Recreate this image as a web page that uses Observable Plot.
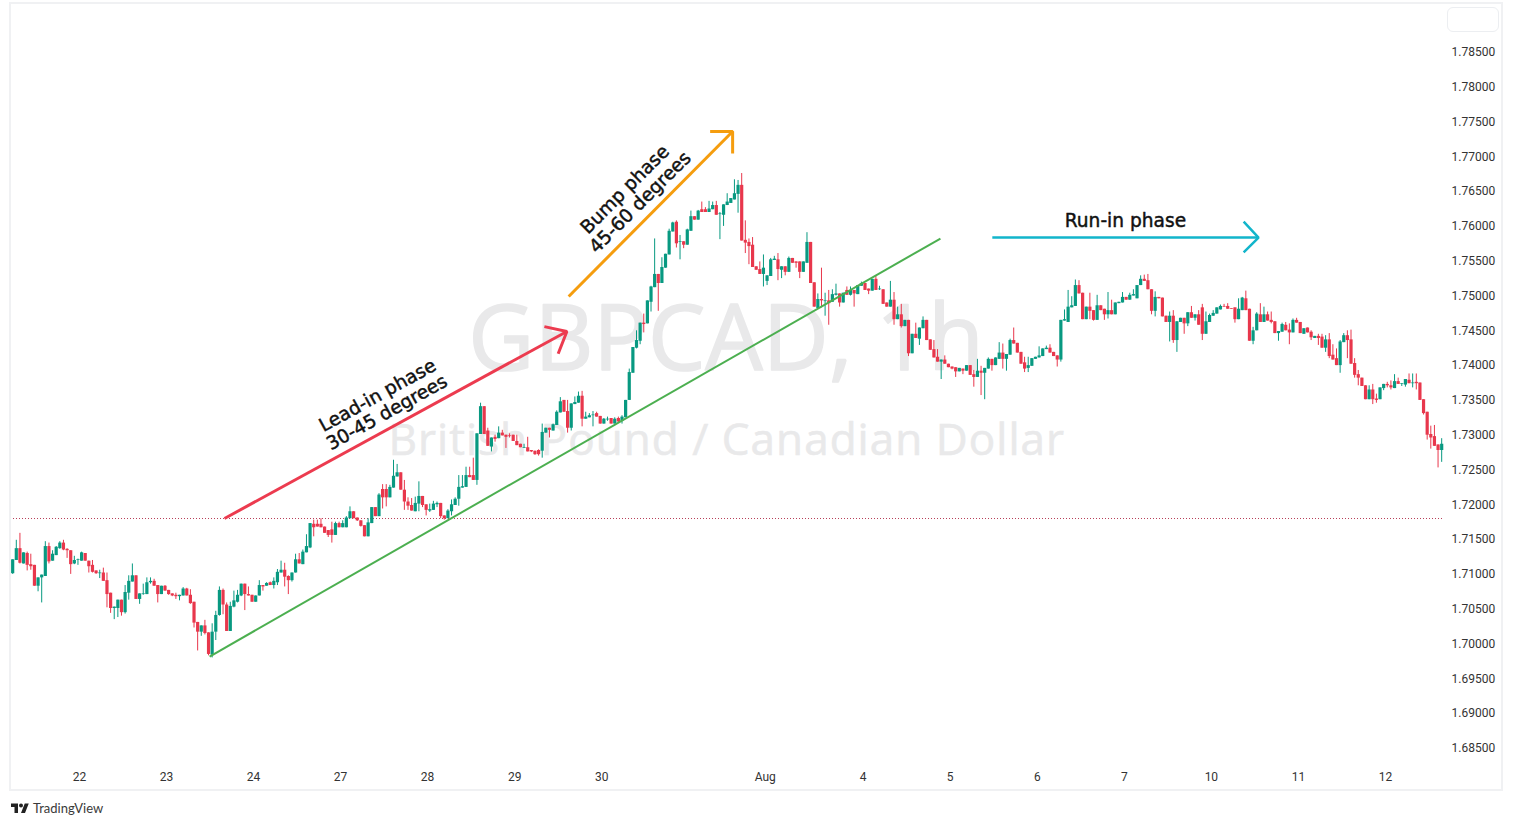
<!DOCTYPE html>
<html><head><meta charset="utf-8">
<script src="https://cdn.jsdelivr.net/npm/d3@7"></script>
<script src="https://cdn.jsdelivr.net/npm/@observablehq/plot@0.6"></script>
<style>
html,body{margin:0;padding:0;background:#fff;overflow:hidden}
#frame{position:absolute;left:9px;top:2px;width:1494px;height:789px;box-sizing:border-box;border:2px solid #f0f1f3;pointer-events:none}
#box{position:absolute;left:1447px;top:7px;width:52px;height:25px;box-sizing:border-box;border:1px solid #eceef1;border-radius:6px;background:#fff}
#tv{position:absolute;left:10px;top:801px;height:14px;display:flex;align-items:center;font:13px Lato,sans-serif;color:#3a3a3a}
#tv svg{width:20px;height:14px;margin-right:3px}
#chart{position:absolute;left:0;top:0}
.wm-sub text{letter-spacing:1.05px}
</style></head><body>
<div id="chart"></div><div id="frame"></div><div id="box"></div>
<div id="tv"><svg viewBox="0 0 36 28"><path d="M14 24H7V12H0V5h14v19zM28 24h-8l7.5-19h8L28 24z" fill="#222"/><circle cx="20" cy="9" r="4" fill="#222"/></svg><span>TradingView</span></div>
<script>
// Prices are pips above 1.70000, one candle per hour.
const opens=[
101,120,137,115,130,114,113,83,95,97,
140,119,127,137,145,136,134,115,120,119,
130,119,113,105,101,102,91,73,51,51,
63,45,73,89,98,64,71,71,88,90,
84,71,83,77,72,70,68,69,79,70,
60,31,17,26,16,-16,17,41,77,56,
18,53,60,69,86,71,70,60,69,84,
83,88,84,88,102,106,97,91,102,121,
114,131,138,172,172,172,168,163,164,156,
173,167,167,180,190,181,177,170,154,173,
196,183,222,222,210,224,240,246,221,204,
199,190,201,212,200,191,192,200,202,184,
180,190,199,208,224,225,242,242,235,301,
341,306,283,297,295,303,300,299,300,291,
287,281,282,278,277,278,277,303,310,306,
314,332,350,334,310,344,346,356,323,325,
328,331,327,316,322,324,316,324,320,325,
350,389,425,435,461,460,491,512,531,518,
540,559,592,606,577,578,573,593,614,609,
624,624,620,624,630,617,616,630,633,638,
646,659,580,577,573,542,538,531,521,528,
551,552,537,542,534,554,549,549,534,547,
577,519,482,495,492,493,491,501,503,490,
508,501,508,502,514,518,510,507,524,509,
509,490,484,494,466,473,456,465,417,445,
438,453,465,437,423,412,405,408,402,398,
397,391,395,392,400,387,383,392,389,395,
409,400,409,418,409,415,436,432,419,404,
396,399,409,411,413,423,425,419,414,408,
464,462,483,485,515,504,466,484,479,465,
486,481,473,479,473,489,490,498,494,500,
496,515,524,522,509,478,498,497,471,462,
471,436,462,468,460,476,468,473,483,445,
462,471,474,480,485,485,482,483,466,479,
496,481,435,450,473,462,473,465,463,446,
448,458,451,447,465,462,445,454,448,439,
442,441,425,437,415,410,400,433,443,437,
403,387,382,371,351,365,352,351,367,373,
371,367,377,373,372,379,374,376,375,351,
333,301,298,286,278];
const closes=[
121,137,116,131,113,111,83,95,99,140,
118,129,139,145,135,134,114,120,121,131,
119,111,103,101,102,90,71,51,53,63,
45,74,90,98,64,72,72,88,90,83,
71,83,76,71,69,68,70,79,69,58,
30,17,26,15,-15,17,41,77,56,18,
54,62,70,86,71,69,60,69,84,82,
87,84,90,103,106,96,91,102,121,115,
132,140,173,167,168,167,159,156,156,173,
167,173,181,190,180,177,169,154,174,196,
183,214,210,210,225,241,246,221,204,198,
191,202,212,199,192,193,201,202,183,180,
191,200,208,225,226,242,239,235,302,341,
301,284,296,294,303,299,297,298,291,285,
282,282,276,276,272,272,304,310,307,315,
333,348,333,310,345,347,356,323,326,328,
329,326,316,323,323,316,323,319,326,350,
390,426,436,461,459,493,513,531,518,541,
560,593,605,575,578,573,595,614,609,622,
620,620,625,630,616,618,631,635,640,647,
659,579,576,571,541,537,531,540,529,552,
553,538,542,534,554,547,547,534,549,577,
518,484,495,493,493,489,502,503,490,504,
501,508,503,515,518,508,507,524,508,510,
488,484,494,466,473,456,465,417,445,439,
454,465,436,422,411,405,408,402,397,395,
391,396,392,400,386,383,392,389,396,409,
400,411,418,409,416,436,431,418,402,395,
400,410,412,414,424,425,418,413,408,465,
466,484,486,515,503,466,484,478,465,486,
479,473,479,473,490,491,498,494,501,502,
515,524,521,509,478,498,496,470,462,471,
436,463,468,460,476,468,473,458,445,463,
472,475,483,485,484,481,481,466,481,497,
479,435,450,474,462,473,464,462,446,449,
459,450,447,465,461,446,453,447,440,442,
439,425,437,413,408,400,434,443,436,402,
386,382,370,351,365,351,350,368,373,371,
368,377,373,374,380,374,375,374,350,331,
300,296,284,278,287];
const highs=[
121,149,159,131,132,129,113,95,99,147,
145,134,140,147,149,137,134,126,122,132,
130,119,120,105,106,109,102,73,53,63,
63,84,98,115,98,72,86,95,95,93,
84,83,84,77,72,73,70,81,80,78,
60,31,26,34,16,29,47,82,79,59,
60,76,77,86,86,82,70,69,91,84,
88,89,95,107,119,116,98,102,129,130,
135,157,173,178,178,180,168,163,175,175,
175,177,183,197,190,181,177,170,180,196,
196,216,229,229,228,264,258,246,235,210,
209,211,233,212,200,201,205,204,202,184,
193,207,210,242,242,254,254,267,302,346,
341,310,296,300,312,307,300,302,300,300,
287,287,297,278,277,279,316,310,310,316,
335,354,350,350,345,355,362,363,333,331,
334,333,327,324,326,324,325,326,328,350,
395,426,450,461,474,493,514,582,531,555,
560,596,606,608,587,578,596,622,614,623,
635,627,636,635,636,620,631,647,640,667,
666,676,608,582,584,542,549,559,529,554,
557,561,542,542,556,554,549,549,549,591,
577,519,503,540,504,508,509,517,503,504,
513,513,508,515,520,518,510,524,529,514,
509,490,521,505,484,488,465,465,445,461,
454,470,465,437,436,423,408,414,402,398,
397,396,395,400,400,393,409,399,396,411,
409,411,433,431,416,438,454,432,419,412,
412,410,412,427,424,428,430,419,414,465,
480,508,499,523,522,504,484,504,479,501,
486,481,505,494,490,491,505,498,504,509,
515,529,530,531,509,506,498,497,471,477,
479,463,468,468,476,485,473,479,488,477,
474,479,483,487,488,489,482,483,496,498,
507,481,455,476,489,484,477,477,463,449,
461,462,460,467,468,462,453,454,450,442,
445,445,443,446,430,424,436,446,450,451,
410,393,382,371,371,373,359,368,373,376,
378,387,382,374,380,388,388,388,375,351,
333,313,314,286,295];
const lows=[
100,120,115,115,105,106,83,75,59,97,
115,119,127,136,134,123,100,114,113,119,
119,102,102,100,94,90,52,44,35,38,
40,43,63,89,64,57,70,71,86,83,
59,71,76,70,68,64,62,69,69,57,
23,-10,11,13,-17,-20,5,40,42,18,
18,52,59,68,48,69,60,60,69,76,
83,84,79,84,102,82,71,89,102,115,
114,131,137,154,168,167,159,153,145,156,
167,167,167,180,180,176,168,154,154,173,
183,183,194,197,210,224,240,221,192,192,
191,190,190,196,184,189,192,196,180,178,
180,184,199,198,224,225,239,235,228,301,
301,284,276,290,295,299,281,296,291,285,
282,281,276,275,271,270,267,303,296,306,
314,332,333,303,306,344,346,312,323,325,
312,326,316,316,320,316,316,317,316,325,
350,389,424,430,447,460,477,512,478,518,
540,559,592,569,552,568,573,593,609,609,
620,620,620,624,616,581,600,630,633,638,
619,579,561,545,541,537,531,513,515,528,
551,522,525,529,534,547,540,525,534,547,
518,484,482,483,471,458,491,500,484,490,
501,500,484,502,514,508,502,507,508,508,
488,484,484,458,466,454,456,413,417,439,
429,453,436,422,411,405,380,402,397,394,
383,391,387,392,386,369,383,357,351,395,
392,400,409,395,392,415,431,418,402,390,
390,399,409,411,413,423,418,413,398,405,
464,462,483,485,503,466,466,466,464,465,
479,465,467,473,473,489,490,494,494,500,
496,515,521,509,473,470,496,470,462,434,
432,419,462,445,456,468,464,458,436,445,
462,471,474,480,484,481,481,461,466,479,
479,435,430,450,462,462,464,460,446,435,
448,450,430,447,461,446,445,447,436,439,
429,425,419,410,408,400,389,433,410,402,
382,371,370,351,351,344,346,351,364,368,
365,367,373,370,369,374,368,365,350,329,
293,280,284,253,261];

const priceTicks=[1.685,1.69,1.695,1.70,1.705,1.71,1.715,1.72,1.725,1.73,1.735,1.74,1.745,1.75,1.755,1.76,1.765,1.77,1.775,1.78,1.785];
const dayIndex=[18.4,42.4,66.4,90.4,114.4,138.4,162.4,207.5,234.5,258.5,282.5,306.5,330.5,354.5,378.5];
const dayLabels=["22","23","24","27","28","29","30","Aug","4","5","6","7","10","11","12"];

// Hand-drawn annotations: candle index and pips above 1.70000
const lineName=["trend","trend","lead","lead","leadHead","leadHead","leadHead","bump","bump","bumpHead","bumpHead","bumpHead","run","run","runHead","runHead","runHead"];
const lineIndex=[54.3,255.8,58.4,152.8,146.6,152.8,150.4,153.3,198.5,192.3,198.5,198.5,270.1,343.5,339.4,343.5,339.4];
const linePips=[-18,582.6,180.3,449,456,449,417,499.3,736.4,736.4,736.4,704.7,584,584,607,584,562.6];
const lineColors={trend:"#4caf50",lead:"#ec3b4f",leadHead:"#ec3b4f",bump:"#f59d0e",bumpHead:"#f59d0e",run:"#12b5cb",runHead:"#12b5cb"};
const lineWidths={trend:2,lead:3,leadHead:3,bump:3,bumpHead:3,run:2.5,runHead:2.5};
const dottedLevel=180.3;

const noteText=["Lead-in phase","30-45 degrees","Bump phase","45-60 degrees","Run-in phase"];
const noteIndex=[100.6,103.2,168.8,173,306.8];
const notePips=[357,332.6,653,634.4,608];
const noteAngle=[-29,-29,-45,-45,0];

const price=p=>1.7+p/10000;
const candles=opens.map((o,i)=>({i,open:price(o),close:price(closes[i]),high:price(highs[i]),low:price(lows[i]),up:closes[i]>=o}));
const segs=lineName.map((n,k)=>({n,x:lineIndex[k],y:price(linePips[k])}));
const notes=noteText.map((t,k)=>({t,x:noteIndex[k],y:price(notePips[k]),a:noteAngle[k]}));
const GREEN="#089981",RED="#e8374c";
const lineMark=n=>Plot.line(segs.filter(d=>d.n===n),{x:"x",y:"y",stroke:lineColors[n],strokeWidth:lineWidths[n],strokeLinecap:"butt",strokeLinejoin:"miter"});

const plot=Plot.plot({
  width:1513,height:826,marginLeft:10,marginRight:70,marginTop:3,marginBottom:58,
  style:{background:"transparent",fontFamily:"Roboto, sans-serif"},
  x:{type:"linear",domain:[-0.6,394.5]},
  y:{type:"linear",domain:[1.68211,1.79203]},
  marks:[
    Plot.text(["GBPCAD, 1h"],{x:196.7,y:price(436),text:d=>d,fontSize:91,fill:"#e9e9ea",stroke:"#e9e9ea",strokeWidth:1.6,fontFamily:"Open Sans, sans-serif",textAnchor:"middle"}),
    Plot.text(["British Pound / Canadian Dollar"],{x:196.9,y:price(292.4),text:d=>d,fontSize:44,fill:"#e9e9ea",stroke:"#e9e9ea",strokeWidth:0.6,fontFamily:"Open Sans, sans-serif",textAnchor:"middle",className:"wm-sub"}),
    Plot.ruleY([price(dottedLevel)],{stroke:"#b8405a",strokeWidth:1,strokeDasharray:"1,2"}),
    Plot.ruleX(candles,{x:"i",y1:"low",y2:"high",stroke:d=>d.up?GREEN:RED,strokeWidth:1}),
    Plot.ruleX(candles,{x:"i",y1:"open",y2:"close",stroke:d=>d.up?GREEN:RED,strokeWidth:3.2}),
    ...Object.keys(lineColors).map(lineMark),
    ...notes.map(n=>Plot.text([n],{x:"x",y:"y",text:"t",rotate:n.a,fontSize:18.6,fontWeight:400,fill:"#111",stroke:"#111",strokeWidth:0.45,fontFamily:"DejaVu Sans, sans-serif",textAnchor:"middle"})),
    Plot.axisX({ticks:dayIndex,tickFormat:d=>dayLabels[dayIndex.indexOf(d)],tickSize:0,tickPadding:4,fontSize:12,color:"#333",label:null}),
    Plot.axisY({anchor:"right",ticks:priceTicks,tickFormat:d3.format(".5f"),tickSize:0,tickPadding:8,fontSize:12,color:"#333",label:null})
  ]
});
document.getElementById("chart").append(plot);
</script>
</body></html>
